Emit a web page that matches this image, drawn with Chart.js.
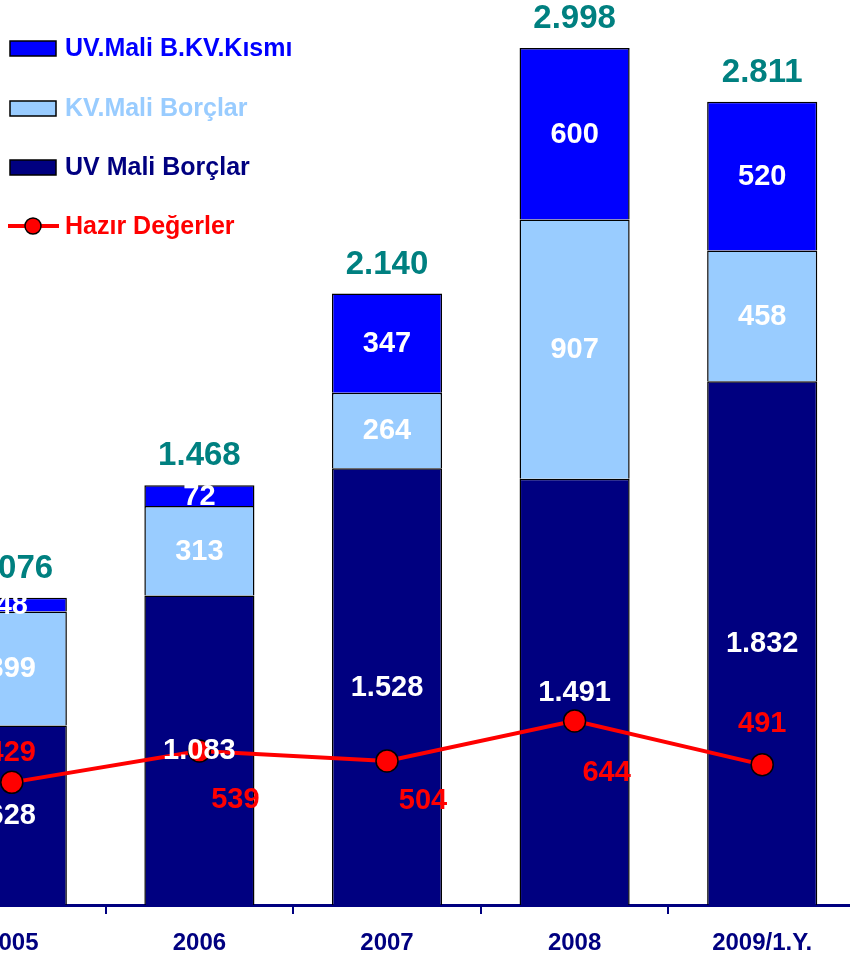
<!DOCTYPE html>
<html>
<head>
<meta charset="utf-8">
<script src="https://cdn.jsdelivr.net/npm/chart.js@4/dist/chart.umd.min.js"></script>
<style>
  html, body { margin: 0; padding: 0; background: #fff; overflow: hidden; }
  #wrap { position: relative; width: 850px; height: 957px; overflow: hidden; }
  #chart { position: absolute; left: -82px; top: 0; }
</style>
</head>
<body>
<div id="wrap"><canvas id="chart" width="938" height="957"></canvas></div>
<script>
// Data (milyon TL)
const categories = ['2005', '2006', '2007', '2008', '2009/1.Y.'];
const uvMaliBorclar = [628, 1083, 1528, 1491, 1832];
const kvMaliBorclar = [399, 313, 264, 907, 458];
const uvKvKismi = [48, 72, 347, 600, 520];
const toplam = [1076, 1468, 2140, 2998, 2811];
const hazirDegerler = [429, 539, 504, 644, 491];

const NAVY = '#000080';
const LIGHT = '#99CCFF';
const BLUE = '#0000FF';
const RED = '#FF0000';
const TEAL = '#008080';
const FONT = 'Arial, "Liberation Sans", sans-serif';
const SHIFT = 82; // canvas is shifted left, first category is cut off

// Turkish thousands separator
function fmt(v) {
    return String(v).replace(/\B(?=(\d{3})+(?!\d))/g, '.');
}

// label offsets for the red line values (relative to the point)
const lineLabelOffset = [[0, -29], [36, 49], [36, 40], [32, 52], [0, -41]];

const labelPlugin = {
    id: 'labels',
    afterDatasetsDraw(chart) {
        const ctx = chart.ctx;
        ctx.save();
        ctx.textAlign = 'center';
        ctx.textBaseline = 'middle';

        // white values inside the stacked segments
        ctx.font = 'bold 29px ' + FONT;
        ctx.fillStyle = '#fff';
        [0, 1, 2].forEach(di => {
            const meta = chart.getDatasetMeta(di);
            meta.data.forEach((bar, i) => {
                const p = bar.getProps(['x', 'y', 'base'], true);
                const y = (p.y + p.base) / 2;
                ctx.fillText(fmt(chart.data.datasets[di].data[i]), p.x, y + 1);
            });
        });

        // totals above bars
        ctx.font = 'bold 33px ' + FONT;
        ctx.fillStyle = TEAL;
        const top = chart.getDatasetMeta(2);
        top.data.forEach((bar, i) => {
            ctx.fillText(fmt(toplam[i]), bar.x, bar.y - 29);
        });

        // red labels for Hazır Değerler
        ctx.font = 'bold 29px ' + FONT;
        ctx.fillStyle = RED;
        const line = chart.getDatasetMeta(3);
        line.data.forEach((pt, i) => {
            const o = lineLabelOffset[i];
            ctx.fillText(fmt(hazirDegerler[i]), pt.x + o[0], pt.y + o[1]);
        });

        // legend (top-left)
        const items = [
            { text: 'UV.Mali B.KV.Kısmı', color: BLUE, y: 48 },
            { text: 'KV.Mali Borçlar', color: LIGHT, y: 108 },
            { text: 'UV Mali Borçlar', color: NAVY, y: 167 },
            { text: 'Hazır Değerler', color: RED, y: 226, line: true }
        ];
        ctx.textAlign = 'left';
        ctx.font = 'bold 25px ' + FONT;
        items.forEach(it => {
            const x0 = SHIFT + 10;
            if (it.line) {
                ctx.strokeStyle = RED;
                ctx.lineWidth = 4;
                ctx.beginPath();
                ctx.moveTo(SHIFT + 8, it.y);
                ctx.lineTo(SHIFT + 59, it.y);
                ctx.stroke();
                ctx.beginPath();
                ctx.arc(SHIFT + 33, it.y, 8, 0, Math.PI * 2);
                ctx.fillStyle = RED;
                ctx.fill();
                ctx.lineWidth = 1.5;
                ctx.strokeStyle = '#000';
                ctx.stroke();
            } else {
                ctx.fillStyle = it.color;
                ctx.fillRect(x0, it.y - 7, 46, 15);
                ctx.lineWidth = 1.5;
                ctx.strokeStyle = '#000';
                ctx.strokeRect(x0, it.y - 7, 46, 15);
            }
            ctx.fillStyle = it.color;
            ctx.fillText(it.text, SHIFT + 65, it.y + 1);
        });
        ctx.restore();
    }
};

const ctx = document.getElementById('chart').getContext('2d');
new Chart(ctx, {
    type: 'bar',
    data: {
        labels: categories,
        datasets: [
            { label: 'UV Mali Borçlar', data: uvMaliBorclar, backgroundColor: NAVY, borderColor: '#000', borderWidth: 1.5, stack: 's', order: 1 },
            { label: 'KV.Mali Borçlar', data: kvMaliBorclar, backgroundColor: LIGHT, borderColor: '#000', borderWidth: 1.5, stack: 's', order: 1 },
            { label: 'UV.Mali B.KV.Kısmı', data: uvKvKismi, backgroundColor: BLUE, borderColor: '#000', borderWidth: 1.5, stack: 's', order: 1 },
            {
                type: 'line', label: 'Hazır Değerler', data: hazirDegerler, order: 0,
                borderColor: RED, borderWidth: 4, tension: 0,
                pointRadius: 11, pointBackgroundColor: RED, pointBorderColor: '#000', pointBorderWidth: 1.5,
                clip: false
            }
        ]
    },
    options: {
        responsive: false,
        animation: false,
        devicePixelRatio: 1,
        layout: { padding: 0, autoPadding: false },
        plugins: { legend: { display: false }, tooltip: { enabled: false } },
        datasets: { bar: { categoryPercentage: 0.587, barPercentage: 1 } },
        scales: {
            x: {
                stacked: true,
                grid: { offset: true, drawOnChartArea: false, drawTicks: true, tickLength: 9, color: NAVY, lineWidth: 2 },
                border: { color: NAVY, width: 3 },
                ticks: { color: NAVY, font: { family: FONT, size: 24, weight: 'bold' }, padding: 15, maxRotation: 0 },
                afterFit(scale) {
                    scale.paddingLeft = 0;
                    scale.paddingRight = 0;
                    scale.height = 52;
                }
            },
            y: {
                stacked: true,
                display: false,
                min: 0,
                max: 3166
            }
        }
    },
    plugins: [labelPlugin]
});
</script>
</body>
</html>
